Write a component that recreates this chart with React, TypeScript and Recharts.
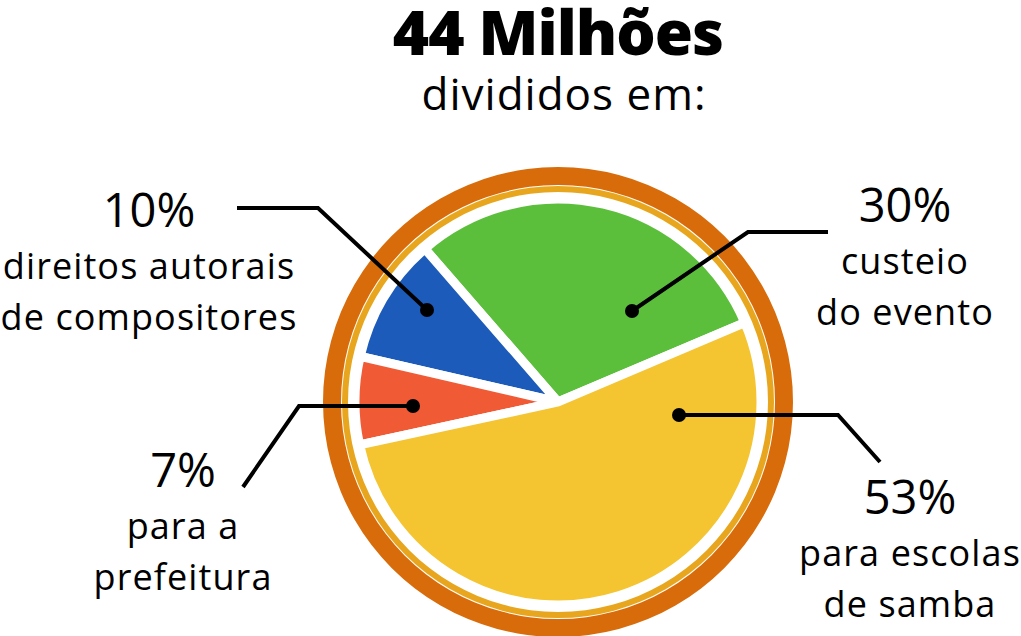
import React from 'react';
import {PieChart, Pie, Cell} from 'recharts';

// fatias (ordem anti-horária a partir do limite verde/amarelo)
const categories = ['custeio do evento', 'direitos autorais de compositores', 'para a prefeitura', 'para escolas de samba'];
const shares = [30, 10, 7, 53];
const percentLabels = ['30%', '10%', '7%', '53%'];
const labelLines = [
    ['custeio', 'do evento'],
    ['direitos autorais', 'de compositores'],
    ['para a', 'prefeitura'],
    ['para escolas', 'de samba'],
];
const sliceColors = ['#5CBF3C', '#1C5BB9', '#F05A35', '#F4C431'];
const ringData = [{name: 'anel', value: 1}];

const FONT = '"Open Sans", "Noto Sans", sans-serif';

// pontos do rótulo relativos ao centro: ponto, cotovelo, fim da linha, posição do texto
const labelLayout = [
    {dot: [74, -91], elbow: [190, -170], end: [270, -170], text: [347, -180]},
    {dot: [-131, -92], elbow: [-240, -194], end: [-321, -194], text: [-409, -175]},
    {dot: [-145, 4], elbow: [-259, 4], end: [-315, 85], text: [-375, 85]},
    {dot: [121, 13], elbow: [280, 13], end: [322, 60], text: [352, 112]},
];

const data = categories.map((name, i) => ({name, value: shares[i]}));

const renderLabel = (props: any) => {
    const {cx, cy, index} = props;
    const l = labelLayout[index];
    const p = (pt: number[]) => [cx + pt[0], cy + pt[1]];
    const [dx, dy] = p(l.dot);
    const [ex, ey] = p(l.elbow);
    const [fx, fy] = p(l.end);
    const [tx, ty] = p(l.text);
    return (
        <g key={`lbl-${index}`}>
            <polyline points={`${dx},${dy} ${ex},${ey} ${fx},${fy}`} fill="none" stroke="#000" strokeWidth={4}/>
            <circle cx={dx} cy={dy} r={7} fill="#000"/>
            <text x={tx} y={ty} textAnchor="middle" fontFamily={FONT} fontSize={47} fill="#000">
                {percentLabels[index]}
            </text>
            {labelLines[index].map((line, j) => (
                <text key={j} x={tx} y={ty + 52 + j * 51} textAnchor="middle"
                      fontFamily={FONT} fontSize={36} letterSpacing={1.1} fill="#000">
                    {line}
                </text>
            ))}
        </g>
    );
};

export default function App() {
    return (
        <div style={{position: 'relative', width: 1021, height: 636, background: '#fff', overflow: 'hidden'}}>
            <style>{'body{margin:0}'}</style>
            <div style={{
                position: 'absolute', left: 0, width: 1116, top: 0, textAlign: 'center', lineHeight: '62px',
                fontFamily: FONT, fontWeight: 800, fontSize: 62, color: '#000', letterSpacing: -1,
            }}>
                44 Milhões
            </div>
            <div style={{
                position: 'absolute', left: 0, width: 1128, top: 71, textAlign: 'center', lineHeight: '44px',
                fontFamily: FONT, fontSize: 44, color: '#000', letterSpacing: 1,
            }}>
                divididos em:
            </div>
            <PieChart width={1021} height={636} margin={{top: 0, right: 0, bottom: 0, left: 0}}
                      style={{position: 'absolute', left: 0, top: 0}}>
                <Pie data={ringData} dataKey="value" cx={558} cy={402} innerRadius={217} outerRadius={235}
                     fill="#D96C0A" stroke="none" isAnimationActive={false}/>
                <Pie data={ringData} dataKey="value" cx={558} cy={402} innerRadius={210} outerRadius={216}
                     fill="#E8A61E" stroke="none" isAnimationActive={false}/>
                <Pie data={data} dataKey="value" nameKey="name" cx={558} cy={402} outerRadius={203}
                     startAngle={23} endAngle={383} stroke="#fff" strokeWidth={9}
                     label={renderLabel} labelLine={false} isAnimationActive={false}>
                    {data.map((d, i) => <Cell key={d.name} fill={sliceColors[i]}/>)}
                </Pie>
            </PieChart>
        </div>
    );
}
